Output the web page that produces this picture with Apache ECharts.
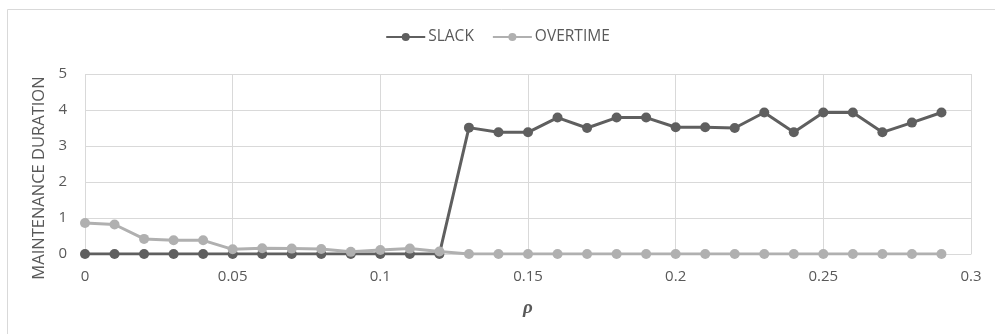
<!DOCTYPE html>
<html>
<head>
<meta charset="utf-8">
<script src="https://cdn.jsdelivr.net/npm/echarts@6/dist/echarts.min.js"></script>
<style>
html,body{margin:0;padding:0;background:#fff;}
#c{width:995px;height:334px;}
</style>
</head>
<body>
<div id="c"></div>
<script>
const rho = [0,0.01,0.02,0.03,0.04,0.05,0.06,0.07,0.08,0.09,0.10,0.11,0.12,0.13,0.14,0.15,0.16,0.17,0.18,0.19,0.20,0.21,0.22,0.23,0.24,0.25,0.26,0.27,0.28,0.29];
const slack = [0,0,0,0,0,0,0,0,0,0,0,0,0,3.51,3.38,3.38,3.79,3.5,3.79,3.79,3.52,3.52,3.5,3.93,3.38,3.93,3.93,3.38,3.65,3.93];
const overtime = [0.86,0.82,0.42,0.38,0.38,0.13,0.16,0.15,0.14,0.06,0.11,0.15,0.07,0,0,0,0,0,0,0,0,0,0,0,0,0,0,0,0,0];
const xTicks = ['0','0.05','0.1','0.15','0.2','0.25','0.3'];
const seriesNames = ['SLACK','OVERTIME'];
const yTitle = 'MAINTENANCE DURATION';
const xTitle = 'ρ';

const chart = echarts.init(document.getElementById('c'), null, {renderer:'canvas'});
const font = '"Open Sans", "Noto Sans", sans-serif';
const labelColor = '#595959';
const gridColor = '#d9d9d9';
chart.setOption({
  animation:false,
  backgroundColor:'#fff',
  graphic:[{
    type:'rect', left:5, top:7, shape:{width:1100, height:400},
    style:{fill:'none', stroke:'#d9d9d9', lineWidth:1}, silent:true, z:-1
  }],
  legend:{
    top:24, left:'center', itemWidth:39, itemHeight:10, itemGap:18,
    textStyle:{fontFamily:font, fontSize:15.5, color:labelColor, padding:[0,0,0,-2]},
    data:seriesNames
  },
  grid:{left:85, right:24, top:74, bottom:80, containLabel:false},
  xAxis:{
    type:'value', min:0, max:0.3, interval:0.05,
    name:xTitle, nameLocation:'middle', nameGap:45,
    nameTextStyle:{fontFamily:'"Liberation Serif", serif', fontSize:19, fontWeight:'bold', fontStyle:'italic', color:labelColor},
    axisLine:{show:true, lineStyle:{color:gridColor}},
    axisTick:{show:false},
    axisLabel:{fontFamily:font, fontSize:15, color:labelColor, margin:15,
      formatter:function(v){ const i=Math.round(v/0.05); return xTicks[i]!==undefined?xTicks[i]:''; }},
    splitLine:{show:true, lineStyle:{color:gridColor}}
  },
  yAxis:{
    type:'value', min:0, max:5, interval:1,
    name:yTitle, nameLocation:'middle', nameGap:37, nameRotate:90,
    nameTextStyle:{fontFamily:font, fontSize:16.5, color:labelColor, padding:[0,0,0,-28]},
    axisLine:{show:false}, axisTick:{show:false},
    axisLabel:{fontFamily:font, fontSize:15, color:labelColor, margin:18},
    splitLine:{show:true, lineStyle:{color:gridColor}}
  },
  series:[
    {name:seriesNames[0], type:'line', data:rho.map((x,i)=>[x,slack[i]]),
     symbol:'circle', symbolSize:10, z:3,
     lineStyle:{color:'#5f5f5f', width:3}, itemStyle:{color:'#5f5f5f'}},
    {name:seriesNames[1], type:'line', data:rho.map((x,i)=>[x,overtime[i]]),
     symbol:'circle', symbolSize:10, z:4,
     lineStyle:{color:'#b0b0b0', width:3}, itemStyle:{color:'#b0b0b0'}}
  ]
});
</script>
</body>
</html>
